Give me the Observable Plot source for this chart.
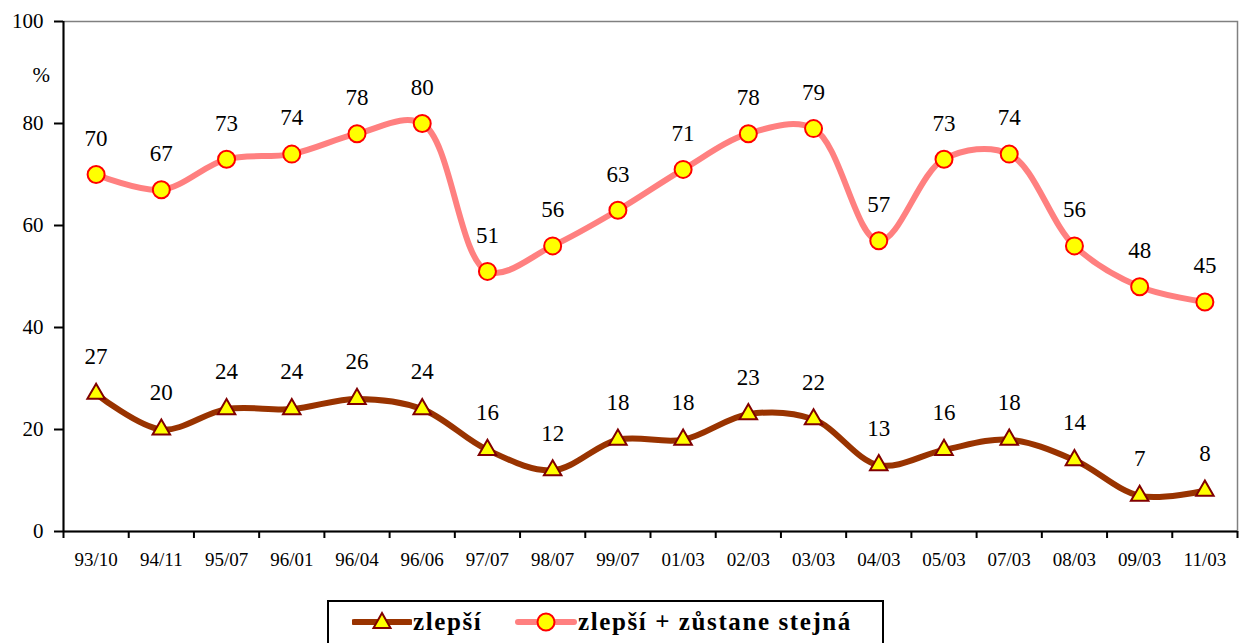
<!DOCTYPE html>
<html>
<head>
<meta charset="utf-8">
<script src="https://cdn.jsdelivr.net/npm/d3@7"></script>
<script src="https://cdn.jsdelivr.net/npm/@observablehq/plot@0.6"></script>
<style>
  html, body { margin: 0; padding: 0; background: #fff; overflow: hidden; }
  body { width: 1240px; height: 643px; position: relative; font-family: 'Liberation Serif', 'Times New Roman', 'DejaVu Serif', serif; }
  #chart { position: absolute; left: 0; top: 0; }
  #chart svg, #chart svg text { font-family: 'Liberation Serif', 'Times New Roman', 'DejaVu Serif', serif !important; }
  #legend { position: absolute; left: 327px; top: 600px; width: 553px; height: 60px; border: 2px solid #000; background: #fff; }
  #legend .item { position: absolute; top: 6px; display: flex; align-items: center; font-weight: bold; font-size: 25px; color: #000; letter-spacing: 1.6px; }
  #legend svg { display: block; margin-right: 1px; }
</style>
</head>
<body>
<div id="chart"></div>
<div id="legend"></div>
<script>
const categories = ["93/10","94/11","95/07","96/01","96/04","96/06","97/07","98/07","99/07","01/03","02/03","03/03","04/03","05/03","07/03","08/03","09/03","11/03"];
const zlepsi = [27,20,24,24,26,24,16,12,18,18,23,22,13,16,18,14,7,8];
const zlepsiStejna = [70,67,73,74,78,80,51,56,63,71,78,79,57,73,74,56,48,45];
const yTicks = [0,20,40,60,80,100];
const seriesNames = ["zlepší", "zlepší + zůstane stejná"];

const dataA = zlepsi.map((v, i) => ({i, v}));
const dataB = zlepsiStejna.map((v, i) => ({i, v}));
const idx = categories.map((_, i) => i);
const bounds = d3.range(-0.5, categories.length, 1);

const pink = "#ff8080", brown = "#993300";
const font = "'Liberation Serif', 'Times New Roman', serif";

const chart = Plot.plot({
  width: 1240,
  height: 580,
  marginLeft: 63,
  marginRight: 3,
  marginTop: 21,
  marginBottom: 49,
  style: {fontFamily: font, background: "#fff", color: "#000"},
  x: {type: "linear", domain: [-0.5, categories.length - 0.5]},
  y: {domain: [0, 100]},
  marks: [
    Plot.frame({stroke: "#808080", strokeWidth: 1.5}),
    Plot.ruleX([-0.5], {stroke: "#000", strokeWidth: 2}),
    Plot.ruleY([0], {stroke: "#000", strokeWidth: 2}),
    Plot.axisY({ticks: yTicks, tickSize: 9, tickPadding: 11, fontSize: 21, strokeWidth: 2, label: null}),
    Plot.axisX({ticks: bounds, tickSize: 7, tickFormat: () => "", strokeWidth: 2, label: null}),
    Plot.axisX({ticks: idx, tickSize: 0, tickPadding: 21, fontSize: 19, tickFormat: i => categories[i], label: null, style: {letterSpacing: "0.8px"}}),
    Plot.text([89.5], {y: d => d, text: () => "%", frameAnchor: "left", dx: -31, fontSize: 21}),
    Plot.line(dataB, {x: "i", y: "v", stroke: pink, strokeWidth: 6, curve: "catmull-rom"}),
    Plot.line(dataA, {x: "i", y: "v", stroke: brown, strokeWidth: 6, curve: "catmull-rom"}),
    Plot.dot(dataB, {x: "i", y: "v", r: 8.5, fill: "#ffff00", stroke: "#ff0000", strokeWidth: 2}),
    Plot.dot(dataA, {x: "i", y: "v", symbol: "triangle", r: 6.5, fill: "#ffff00", stroke: "#800000", strokeWidth: 2}),
    Plot.text(dataB, {x: "i", y: "v", text: "v", dy: -36, fontSize: 23, lineAnchor: "middle"}),
    Plot.text(dataA, {x: "i", y: "v", text: "v", dy: -37, fontSize: 23, lineAnchor: "middle"})
  ]
});
document.getElementById("chart").appendChild(chart);

const legend = document.getElementById("legend");
legend.innerHTML = `
  <div class="item" style="left:23px">
    <svg width="60" height="26"><line x1="2" y1="13" x2="58" y2="13" stroke="${brown}" stroke-width="6" stroke-linecap="round"/>
    <path d="M30,4 L38.5,19 L21.5,19 Z" fill="#ffff00" stroke="#800000" stroke-width="2"/></svg>
    <span>${seriesNames[0]}</span>
  </div>
  <div class="item" style="left:186px">
    <svg width="62" height="26"><line x1="3" y1="13" x2="59" y2="13" stroke="${pink}" stroke-width="6" stroke-linecap="round"/>
    <circle cx="31" cy="13" r="8.5" fill="#ffff00" stroke="#ff0000" stroke-width="2"/></svg>
    <span>${seriesNames[1]}</span>
  </div>`;
</script>
</body>
</html>
